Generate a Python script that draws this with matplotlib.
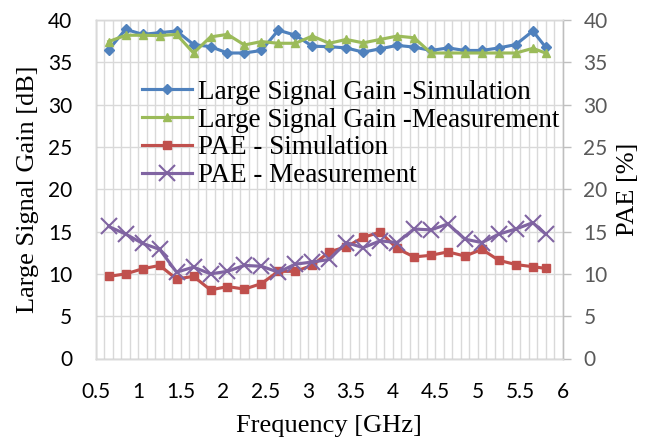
import matplotlib
matplotlib.use('Agg')
import matplotlib.pyplot as plt
from matplotlib.ticker import MultipleLocator

# Frequency points [GHz]
freq = [0.65, 0.85, 1.05, 1.25, 1.45, 1.65, 1.85, 2.05, 2.25, 2.45, 2.65, 2.85, 3.05,
        3.25, 3.45, 3.65, 3.85, 4.05, 4.25, 4.45, 4.65, 4.85, 5.05, 5.25, 5.45, 5.65, 5.8]

# Large signal gain [dB]
gain_sim = [36.5, 38.9, 38.3, 38.5, 38.7, 37.1, 36.85, 36.1, 36.1, 36.4, 38.8, 38.2, 36.9,
            36.85, 36.7, 36.2, 36.6, 37.0, 36.8, 36.4, 36.7, 36.4, 36.4, 36.7, 37.1, 38.7, 36.8]
gain_meas = [37.45, 38.2, 38.2, 38.15, 38.3, 36.1, 38.0, 38.3, 37.05, 37.45, 37.25, 37.25, 38.1,
             37.25, 37.7, 37.3, 37.7, 38.1, 37.9, 36.1, 36.1, 36.1, 36.1, 36.1, 36.1, 36.65, 36.1]

# PAE [%]
pae_sim = [9.7, 10.0, 10.6, 11.0, 9.4, 9.7, 8.1, 8.5, 8.2, 8.85, 10.3, 10.3, 11.0,
           12.6, 13.2, 14.3, 14.95, 13.0, 12.0, 12.2, 12.6, 12.1, 12.9, 11.6, 11.1, 10.85, 10.65]
pae_meas = [15.6, 14.7, 13.6, 12.9, 10.2, 10.8, 10.0, 10.3, 11.0, 10.9, 10.2, 11.15, 11.4,
            11.7, 13.7, 13.1, 13.9, 13.7, 15.3, 15.2, 15.9, 14.1, 13.7, 14.7, 15.3, 16.05, 14.7]

labels = ["Large Signal Gain -Simulation", "Large Signal Gain -Measurement",
          "PAE - Simulation", "PAE - Measurement"]
xticks = [0.5, 1, 1.5, 2, 2.5, 3, 3.5, 4, 4.5, 5, 5.5, 6]
xticklabels = ['0.5', '1', '1.5', '2', '2.5', '3', '3.5', '4', '4.5', '5', '5.5', '6']

serif = ['Liberation Serif', 'DejaVu Serif']
tickfont = ['Lato', 'DejaVu Sans']
grid_c = '#d9d9d9'

fig = plt.figure(figsize=(6.53, 4.41), dpi=100)
ax = fig.add_axes([96 / 653, 1 - 358.5 / 441, 466.5 / 653, 338.5 / 441])
ax2 = ax.twinx()

ax.set_xlim(0.5, 6)
ax.set_ylim(0, 40)
ax2.set_ylim(0, 40)
ax.xaxis.set_minor_locator(MultipleLocator(0.1))
ax.yaxis.set_major_locator(MultipleLocator(5))
ax2.yaxis.set_major_locator(MultipleLocator(5))

ax.grid(True, which='both', axis='x', color=grid_c, lw=1)
ax.grid(True, which='major', axis='y', color=grid_c, lw=1)
ax.set_axisbelow(True)

for a in (ax, ax2):
    for s in a.spines.values():
        s.set_color(grid_c)
        s.set_linewidth(1)
ax.spines['left'].set_color('#bfbfbf')
ax.spines['bottom'].set_color('#bfbfbf')
ax2.spines['right'].set_color('#bfbfbf')

l1, = ax.plot(freq, gain_sim, color='#4F81BD', lw=2.25, marker='D', ms=5)
l2, = ax.plot(freq, gain_meas, color='#9BBB59', lw=2.25, marker='^', ms=6)
l3, = ax.plot(freq, pae_sim, color='#C0504D', lw=2.25, marker='s', ms=6)
l4, = ax.plot(freq, pae_meas, color='#8064A2', lw=2.25, marker='x', ms=11, mew=1.5)

ax.set_xticks(xticks)
ax.set_xticklabels(xticklabels)
ax.tick_params(axis='x', which='both', length=0, pad=17, labelsize=15, labelcolor='#000000')
ax.tick_params(axis='y', length=0, pad=17, labelsize=15, labelcolor='#000000')
ax2.tick_params(axis='y', length=6, width=1, color='#bfbfbf', pad=9, labelsize=15, labelcolor='#595959')
for lab in ax.get_xticklabels() + ax.get_yticklabels() + ax2.get_yticklabels():
    lab.set_family(tickfont)

ax.set_xlabel('Frequency [GHz]', family=serif, fontsize=19)
ax.set_ylabel('Large Signal Gain [dB]', family=serif, fontsize=19)
ax2.set_ylabel('PAE [%]', family=serif, fontsize=19)
ax.xaxis.set_label_coords(0.5, -0.168)
ax.yaxis.set_label_coords(-0.122, 0.5)
ax2.yaxis.set_label_coords(1.116, 0.5)

ax2.legend([l1, l2, l3, l4], labels, loc='upper left', bbox_to_anchor=(0.0986, 0.823),
           frameon=False, borderpad=0, borderaxespad=0, handlelength=1.85, handletextpad=0.2,
           labelspacing=0.1, prop={'family': serif, 'size': 19.5})

fig.savefig('out.png', dpi=100)
